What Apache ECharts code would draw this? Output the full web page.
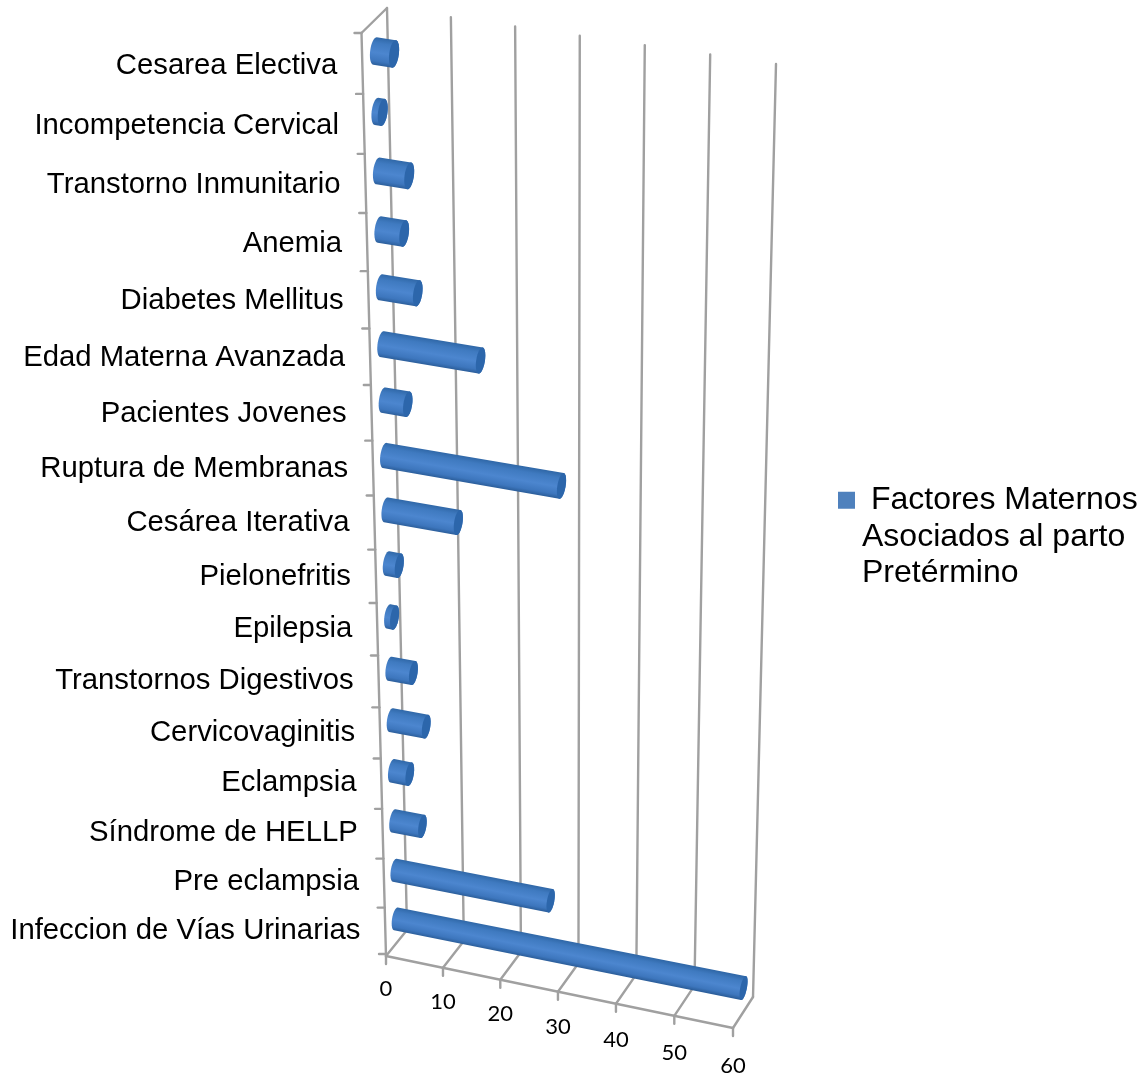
<!DOCTYPE html>
<html>
<head>
<meta charset="utf-8">
<style>html,body{margin:0;padding:0;background:#fff}#chart{width:1148px;height:1078px}</style>
<script src="https://cdn.jsdelivr.net/npm/echarts@6/dist/echarts.min.js"></script>
</head>
<body>
<div id="chart"></div>
<script>
// Maternal factors, listed from the floor of the chart upwards
var categories = ['Infeccion de Vías Urinarias', 'Pre eclampsia', 'Síndrome de HELLP', 'Eclampsia',
  'Cervicovaginitis', 'Transtornos Digestivos', 'Epilepsia', 'Pielonefritis', 'Cesárea Iterativa',
  'Ruptura de Membranas', 'Pacientes Jovenes', 'Edad Materna Avanzada', 'Diabetes Mellitus', 'Anemia',
  'Transtorno Inmunitario', 'Incompetencia Cervical', 'Cesarea Electiva'];
var values = [60, 27, 5, 3, 6, 4, 1, 2, 12, 29, 4, 16, 6, 4, 5, 1, 3];
var valueTicks = [0, 10, 20, 30, 40, 50, 60];
var seriesName = 'Factores Maternos';
var seriesLegendLines = [' Factores Maternos', 'Asociados al parto', 'Pretérmino'];

// Box corners on screen, named by (right, top, back)
var BOX = {
  c000: [386, 956], c100: [733, 1028], c001: [407, 930], c101: [753, 997],
  c010: [361.5, 33], c110: [751, 94], c011: [387, 8], c111: [776, 64]
};
var KU = 1.018, KV = 1.13;   // foreshortening along the value and category directions
var BAR_DEPTH = 0.5, RADIUS_V = 0.21, RADIUS_W = 0.2;
var GRID_COLOR = '#a0a0a0';

function warp(t, k) { return t / (t + k * (1 - t)); }
function mix(a, b, t) { return [a[0] + (b[0] - a[0]) * t, a[1] + (b[1] - a[1]) * t]; }

// Perspective-like projection of a point of the unit box
function project(u, v, w) {
  var a = warp(u, KU), b = warp(v, KV);
  var bottom = mix(mix(BOX.c000, BOX.c100, a), mix(BOX.c001, BOX.c101, a), w);
  var top = mix(mix(BOX.c010, BOX.c110, a), mix(BOX.c011, BOX.c111, a), w);
  return mix(bottom, top, b);
}

// Grid pixel position from the library's scales, as unit-box coordinates
function toUnit(params, api, value, index) {
  var sys = params.coordSys, p = api.coord([value, index]);
  return [(p[0] - sys.x) / sys.width, (sys.y + sys.height - p[1]) / sys.height];
}

function convexHull(pts) {
  pts = pts.slice().sort(function (a, b) { return a[0] - b[0] || a[1] - b[1]; });
  function cross(o, a, b) { return (a[0] - o[0]) * (b[1] - o[1]) - (a[1] - o[1]) * (b[0] - o[0]); }
  function chain(list) {
    var out = [];
    list.forEach(function (p) {
      while (out.length > 1 && cross(out[out.length - 2], out[out.length - 1], p) <= 0) out.pop();
      out.push(p);
    });
    out.pop();
    return out;
  }
  return chain(pts).concat(chain(pts.slice().reverse()));
}

function line(a, b, width) {
  return {
    type: 'line',
    shape: { x1: a[0], y1: a[1], x2: b[0], y2: b[1] },
    style: { stroke: GRID_COLOR, lineWidth: width || 2.4, lineCap: 'round' }
  };
}

function ring(u, vc, rv) {
  var pts = [];
  for (var i = 0; i < 48; i++) {
    var t = i / 48 * Math.PI * 2;
    pts.push(project(u, vc + rv * Math.cos(t), BAR_DEPTH + RADIUS_W * Math.sin(t)));
  }
  return pts;
}

// Value axis: back wall line, floor line, front tick and label
function renderValueTick(params, api) {
  var tick = api.value(0);
  var u = toUnit(params, api, tick, 0)[0];
  var front = project(u, 0, 0), back = project(u, 0, 1), top = project(u, 1, 1);
  return {
    type: 'group',
    children: [
      line(back, top),
      line(front, back),
      line(front, [front[0], front[1] + 8]),
      {
        type: 'text',
        style: {
          text: String(tick), x: front[0], y: front[1] + 33 + 5 * u,
          align: 'center', verticalAlign: 'middle',
          fontFamily: 'Lato', fontSize: 22, fill: '#000'
        }
      }
    ]
  };
}

// Category axis: tick at the lower boundary of each band and the band's label
function renderCategoryTick(params, api) {
  var index = api.value(1);
  var unit = toUnit(params, api, 0, index);
  var band = api.size([0, 1])[1] / params.coordSys.height;
  var mid = project(0, unit[1], 0);
  var upper = project(0, unit[1] + band / 2, 0);
  var children = [
    line([upper[0] - 7, upper[1]], upper),
    {
      type: 'text',
      style: {
        text: categories[index], x: mid[0] - 25, y: mid[1] - 1.5 + 3.5 * unit[1],
        align: 'right', verticalAlign: 'middle',
        fontFamily: '"Liberation Sans"', fontSize: 29.3, fill: '#000'
      }
    }
  ];
  if (index === 0) {
    var lower = project(0, unit[1] - band / 2, 0);
    children.push(line([lower[0] - 7, lower[1] - 2], [lower[0], lower[1] - 2]));
    children.push(line(lower, project(0, 1, 0)));
    children.push(line(project(0, 1, 0), project(0, 1, 1)));
    children.push(line(lower, project(1, 0, 0)));
  }
  return { type: 'group', children: children };
}

// Horizontal cylinder from the zero plane out to the bar's value
function renderCylinder(params, api) {
  var index = api.value(1);
  var end = toUnit(params, api, api.value(0), index);
  var vc = end[1];
  var rv = RADIUS_V * api.size([0, 1])[1] / params.coordSys.height;
  var startRing = ring(0, vc, rv), endRing = ring(end[0], vc, rv);
  var a = project(0, vc, BAR_DEPTH), b = project(end[0], vc, BAR_DEPTH);
  var dx = b[0] - a[0], dy = b[1] - a[1], len = Math.hypot(dx, dy) || 1;
  var nx = -dy / len, ny = dx / len;
  var half = Math.abs(startRing.reduce(function (m, p) {
    return Math.max(m, (p[0] - a[0]) * nx + (p[1] - a[1]) * ny);
  }, 0));
  var body = new echarts.graphic.LinearGradient(
    a[0] - nx * half, a[1] - ny * half, a[0] + nx * half, a[1] + ny * half,
    [
      { offset: 0, color: '#3068a8' },
      { offset: 0.2, color: '#3f7ac0' },
      { offset: 0.55, color: '#4c86cf' },
      { offset: 0.85, color: '#3d76bd' },
      { offset: 1, color: '#2c5f9c' }
    ], true);
  return {
    type: 'group',
    children: [
      { type: 'polygon', shape: { points: convexHull(startRing.concat(endRing)) }, style: { fill: body } },
      { type: 'polygon', shape: { points: endRing }, style: { fill: '#2c66ab' } }
    ]
  };
}

var chart = echarts.init(document.getElementById('chart'));
chart.setOption({
  backgroundColor: '#fff',
  animation: false,
  grid: { left: 100, right: 100, top: 100, bottom: 100 },
  xAxis: { type: 'value', min: 0, max: 60, interval: 10, show: false },
  yAxis: { type: 'category', data: categories, show: false },
  legend: {
    data: [seriesName],
    left: 838,
    top: 409,
    padding: 0,
    icon: 'rect',
    itemWidth: 17,
    itemHeight: 17,
    selectedMode: false,
    formatter: function () { return '\n\n' + seriesLegendLines.join('\n'); },
    textStyle: {
      fontFamily: '"Liberation Sans"', fontSize: 32, lineHeight: 36.5,
      color: '#000', padding: [0, 0, 0, 2]
    }
  },
  series: [
    {
      type: 'custom', name: 'Eje de valores', silent: true, clip: false, z: 1,
      renderItem: renderValueTick,
      data: valueTicks.map(function (t) { return [t, 0]; }),
      encode: { x: 0, y: 1 }
    },
    {
      type: 'custom', name: 'Eje de categorías', silent: true, clip: false, z: 1,
      renderItem: renderCategoryTick,
      data: categories.map(function (c, i) { return [0, i]; }),
      encode: { x: 0, y: 1 }
    },
    {
      type: 'custom', name: seriesName, clip: false, z: 2,
      itemStyle: { color: '#4f81bd' },
      renderItem: renderCylinder,
      data: values.map(function (v, i) { return [v, i]; }),
      encode: { x: 0, y: 1 }
    }
  ]
});
</script>
</body>
</html>
